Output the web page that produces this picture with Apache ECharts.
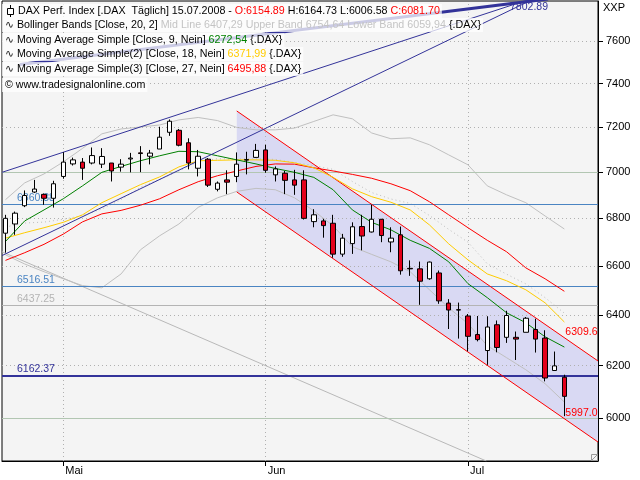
<!DOCTYPE html>
<html><head><meta charset="utf-8">
<script src="https://cdn.jsdelivr.net/npm/echarts@6/dist/echarts.min.js"></script>
<style>html,body{margin:0;padding:0;background:#fff}#c{width:640px;height:480px}</style>
</head><body><div id="c"></div>
<script>
// ---------- data ----------
const dates = [
 '2008-04-23','2008-04-24','2008-04-25','2008-04-28','2008-04-29','2008-04-30',
 '2008-05-02','2008-05-05','2008-05-06','2008-05-07','2008-05-08','2008-05-09','2008-05-12','2008-05-13','2008-05-14','2008-05-15','2008-05-16','2008-05-19','2008-05-20','2008-05-21','2008-05-22','2008-05-23','2008-05-26','2008-05-27','2008-05-28','2008-05-29','2008-05-30',
 '2008-06-02','2008-06-03','2008-06-04','2008-06-05','2008-06-06','2008-06-09','2008-06-10','2008-06-11','2008-06-12','2008-06-13','2008-06-16','2008-06-17','2008-06-18','2008-06-19','2008-06-20','2008-06-23','2008-06-24','2008-06-25','2008-06-26','2008-06-27','2008-06-30',
 '2008-07-01','2008-07-02','2008-07-03','2008-07-04','2008-07-07','2008-07-08','2008-07-09','2008-07-10','2008-07-11','2008-07-14','2008-07-15'
];
const open  = [6737,6776,6854,6913,6903,6886,6981,7036,7044,7040,7035,7040,7022,7058,7085,7070,7102,7177,7186,7130,7017,7057,6925,6966,6981,7055,7065,7098,6988,6995,6966,6966,6786,6789,6779,6649,6693,6765,6742,6796,6700,6730,6590,6588,6547,6571,6448,6421,6396,6322,6259,6361,6311,6311,6331,6342,6308,6181,6154.89];
const close = [6800,6822,6898,6926,6886,6949,7044,7054,7017,7073,7069,7005,7035,7062,7082,7084,7155,7227,7119,7040,7070,6943,6952,6956,7035,7053,7096,7008,7014,6964,6943,6800,6815,6769,6649,6716,6764,6725,6796,6727,6716,6580,6588,6537,6616,6457,6420,6420,6315,6302,6352,6271,6398,6304,6387,6304,6152,6199,6081.70];
const low   = [6655,6730,6848,6909,6858,6846,6971,7029,6966,7034,7018,6959,7002,6999,7000,7034,7102,7161,7114,7012,6981,6935,6916,6904,6956,6990,7063,6997,6959,6904,6901,6795,6762,6718,6634,6638,6650,6665,6740,6699,6657,6564,6559,6441,6543,6445,6344,6306,6256,6295,6203,6252,6289,6222,6331,6251,6139,6181,6006.58];
const high  = [6815,6829,6920,6966,6907,6962,7088,7064,7062,7109,7106,7040,7057,7085,7115,7098,7202,7235,7192,7150,7098,7062,6959,7008,7087,7090,7125,7121,7025,7005,7010,7008,6839,6798,6815,6734,6783,6815,6858,6797,6762,6765,6623,6618,6618,6581,6464,6450,6404,6396,6395,6378,6417,6334,6392,6385,6339,6255,6164.73];

const sampleIdx = [0,2,4,6,8,10,12,14,16,18,20,22,24,26,28,30,32,34,36,38,40,42,44,46,48,50,52,54,56,58];
const ma9   = [6702,6789,6836,6884,6940,6999,7025,7050,7072,7092,7090,7072,7054,7036,7016,6999,6977,6923,6836,6783,6751,6707,6673,6617,6527,6470,6409,6369,6313,6272.54];
const ma18  = [6716,6739,6760,6783,6815,6867,6906,6945,6979,7023,7050,7052,7054,7054,7052,7041,7019,6977,6927,6893,6869,6836,6772,6692,6625,6567,6539,6502,6449,6371.99];
const ma27  = [6623,6655,6690,6733,6785,6819,6834,6856,6884,6923,6958,6984,7005,7025,7036,7035,7019,7005,6990,6973,6949,6919,6871,6815,6760,6707,6659,6592,6547,6495.88];
const bbUpper = [6880,6953,6992,7045,7105,7170,7192,7201,7210,7233,7244,7230,7199,7188,7188,7196,7226,7256,7238,7174,7148,7152,7121,7076,7032,6940,6901,6867,6810,6754.64];
const bbMid   = [6763,6780,6784,6796,6812,6840,6880,6934,6968,7005,7046,7059,7058,7059,7056,7042,7029,7012,6959,6911,6883,6864,6812,6753,6699,6609,6566,6526,6470,6407.29];
const bbLower = [6646,6608,6576,6547,6519,6510,6567,6667,6726,6776,6847,6888,6916,6929,6923,6888,6832,6768,6680,6648,6617,6576,6502,6429,6365,6278,6231,6184,6130,6059.94];

const yTicks = [6000,6200,6400,6600,6800,7000,7200,7400,7600];
const monthNames = ['Mai','Jun','Jul'];
const levels = [6860.38, 6516.51, 6437.25, 6162.37];
const roundLevels = [7000, 6000];
const trendA = [[-0.36, 6999], [56.3, 7831]];
const trendB = [[-0.36, 6643], [56.3, 7837]];
const trendC = [[1.5, 7489], [56.3, 7802.89]];
const grayTrend = [[-0.36, 6659], [49.9, 5840]];
const chUpper = [[24, 7273.6], [61.49, 6218]];
const chLower = [[24, 6913.5], [61.49, 5910]];
const chLabels = [[58, 6309.6], [58, 5997.0]];

// ---------- styles ----------
const F = '"Liberation Sans", Arial, Helvetica, "DejaVu Sans", sans-serif';
const levelColors = ['#4a84c2', '#4a84c2', '#b4b4b4', '#33339a'];
const levelWidths = [1, 1, 1, 2];

const monthIdx = dates.map((d, i) => (i > 0 && d.slice(5, 7) !== dates[i - 1].slice(5, 7)) ? i : -1).filter(i => i >= 0);
const candleData = dates.map((d, i) => [i, open[i], close[i], low[i], high[i]]);
const pts = arr => sampleIdx.map((x, k) => [x, arr[k]]);

function lineSeries(data, color, width, z, extra) {
  return Object.assign({
    type: 'line', data: data, showSymbol: false, symbol: 'none', clip: true, silent: true,
    lineStyle: { color: color, width: width }, z: z, animation: false
  }, extra || {});
}

const chart = echarts.init(document.getElementById('c'), null, { renderer: 'canvas' });

const fmt2 = v => v.toFixed(2);
const last = dates.length - 1;
const legendTexts = [
  '{k|DAX Perf. Index [.DAX  Täglich] ' + dates[last].split('-').reverse().join('.') + ' - }{r|O:' + fmt2(open[last]) + '}{k| H:' + fmt2(high[last]) + ' L:' + fmt2(low[last]) + ' }{r|C:' + fmt2(close[last]) + '}',
  '{k|\u223F Bollinger Bands [Close, 20, 2]}{g| Mid Line 6407,29 Upper Band 6754,64 Lower Band 6059,94}{k| {.DAX}}',
  '{k|\u223F Moving Average Simple [Close, 9, Nein] }{gr|6272,54}{k| {.DAX}}',
  '{k|\u223F Moving Average Simple(2) [Close, 18, Nein] }{y|6371,99}{k| {.DAX}}',
  '{k|\u223F Moving Average Simple(3) [Close, 27, Nein] }{r|6495,88}{k| {.DAX}}',
  '{k|\u00A9 www.tradesignalonline.com}'
];
const rowY = [11, 25, 40, 54, 69, 85];
const LF = '10.7px ' + F;
const rich = {
  k: { fill: '#000', font: LF }, r: { fill: '#ff0000', font: LF }, g: { fill: '#c4c4c4', font: LF },
  gr: { fill: '#008000', font: LF }, y: { fill: '#ffcc00', font: LF }
};
const graphics = legendTexts.map((t, i) => ({
  type: 'text', x: 2, y: rowY[i], z: 100, silent: true,
  style: {
    text: t, rich: rich, font: LF, fill: '#000', verticalAlign: 'middle', align: 'left',
    backgroundColor: 'rgba(255,255,255,0.75)', padding: i === 0 ? [2, 2, 1, 16] : [2, 2, 1, 3]
  }
}));
graphics.push({ type: 'line', z: 101, shape: { x1: 10.5, y1: 5, x2: 10.5, y2: 17 }, style: { stroke: '#000', lineWidth: 1 } });
graphics.push({ type: 'rect', z: 102, shape: { x: 7.5, y: 8.5, width: 6, height: 6 }, style: { fill: '#fff', stroke: '#000', lineWidth: 1 } });
graphics.push({ type: 'text', x: 603, y: 8, z: 100, style: { text: 'XXP', font: '11px ' + F, fill: '#000', verticalAlign: 'middle' } });
graphics.push({ type: 'rect', z: 100, shape: { x: 591.5, y: 454.5, width: 6, height: 6 }, style: { fill: '#f4f4f4', stroke: '#9a9a9a', lineWidth: 1 } });
graphics.push({ type: 'line', z: 101, shape: { x1: 592, y1: 460, x2: 597, y2: 455 }, style: { stroke: '#9a9a9a', lineWidth: 1 } });

const option = {
  animation: false,
  backgroundColor: '#ffffff',
  grid: { left: 2, right: 42, top: 1, bottom: 19, show: true, backgroundColor: '#f4f4f4', borderColor: '#000', borderWidth: 1, containLabel: false, outerBoundsMode: 'none' },
  xAxis: {
    type: 'value', min: -0.36, max: 61.49,
    axisLine: { show: true, onZero: false, lineStyle: { color: '#000', width: 1 } },
    axisTick: { show: true, customValues: monthIdx, length: 5, lineStyle: { color: '#000' } },
    axisLabel: { show: true, customValues: monthIdx, formatter: v => monthNames[monthIdx.indexOf(v)] || '', align: 'left', margin: 4, color: '#000', fontSize: 11, fontFamily: F, padding: [0, 0, 0, 2] },
    splitLine: { show: false }
  },
  yAxis: {
    type: 'log', logBase: 10, position: 'right', min: 5840, max: 7793,
    axisLine: { show: true, onZero: false, lineStyle: { color: '#000', width: 1 } },
    axisTick: { show: true, customValues: yTicks, length: 5, lineStyle: { color: '#000' } },
    axisLabel: { show: true, customValues: yTicks, formatter: v => String(Math.round(v)), margin: 8, color: '#000', fontSize: 11, fontFamily: F },
    splitLine: { show: false }, minorTick: { show: false }, minorSplitLine: { show: false }
  },
  graphic: graphics,
  series: [
    // channel fill
    {
      type: 'custom', z: 1, silent: true, clip: true, data: [chUpper[0]],
      renderItem: (params, api) => ({
        type: 'polygon',
        shape: { points: [chUpper[0], chUpper[1], chLower[1], chLower[0]].map(p => api.coord(p)) },
        style: { fill: '#d9d9f3' }
      })
    },
    // dotted grid
    {
      type: 'line', data: [], z: 2, silent: true,
      markLine: {
        silent: true, symbol: 'none', animation: false, label: { show: false },
        lineStyle: { color: '#b0b0b0', type: [1, 3], width: 1 },
        data: yTicks.map(v => ({ yAxis: v })).concat(monthIdx.map(v => ({ xAxis: v })))
      }
    },
    // horizontal levels
    {
      type: 'line', data: [], z: 3, silent: true,
      markLine: {
        silent: true, symbol: 'none', animation: false,
        data: roundLevels.map(v => ({ yAxis: v, lineStyle: { color: '#b2c6b2', width: 1, type: 'solid' }, label: { show: false } }))
          .concat(levels.map((v, i) => ({
            yAxis: v,
            lineStyle: { color: levelColors[i], width: levelWidths[i], type: 'solid' },
            label: { show: true, position: 'insideStartTop', distance: [15, 1], formatter: p => p.value.toFixed(2), color: levelColors[i], fontSize: 10.5, fontFamily: F }
          })))
      }
    },
    lineSeries(grayTrend, '#b8b8b8', 1, 4),
    lineSeries(pts(bbUpper), '#c0c0c0', 1, 4),
    lineSeries(pts(bbLower), '#c0c0c0', 1, 4),
    lineSeries(pts(bbMid), '#bdbdbd', 1, 4, { lineStyle: { color: '#bdbdbd', width: 1, type: [1, 3] } }),
    lineSeries(chUpper, '#ff0000', 1, 5, {
      markPoint: { symbol: 'circle', symbolSize: 0, animation: false, silent: true,
        label: { show: true, position: 'right', distance: 1, offset: [0, -6], color: '#ff0000', fontSize: 10.5, fontFamily: F, formatter: p => p.value.toFixed(1) },
        data: [{ coord: chLabels[0], value: chLabels[0][1] }] }
    }),
    lineSeries(chLower, '#ff0000', 1, 5, {
      markPoint: { symbol: 'circle', symbolSize: 0, animation: false, silent: true,
        label: { show: true, position: 'right', distance: 1, offset: [0, -6], color: '#ff0000', fontSize: 10.5, fontFamily: F, formatter: p => p.value.toFixed(1) },
        data: [{ coord: chLabels[1], value: chLabels[1][1] }] }
    }),
    lineSeries(pts(ma27), '#ff0000', 1, 6),
    lineSeries(pts(ma18), '#ffcc00', 1, 6),
    lineSeries(pts(ma9), '#008000', 1, 6),
    lineSeries(trendA, '#333399', 1, 7),
    lineSeries(trendB, '#333399', 1, 7),
    lineSeries(trendC, '#333399', 3, 7),
    {
      type: 'candlestick', data: candleData, barWidth: 5, z: 10, clip: true, silent: true,
      itemStyle: { color: '#ffffff', color0: '#e3001b', borderColor: '#000', borderColor0: '#000', borderWidth: 1 }
    }
  ]
};
chart.setOption(option);

// label for the end of the thick trend line
const endPt = chart.convertToPixel({ gridIndex: 0 }, trendC[trendC.length - 1]);
chart.setOption({ graphic: graphics.concat([{
  type: 'text', x: endPt[0], y: Math.max(endPt[1], 0) + 7, z: 99, silent: true,
  style: { text: trendC[trendC.length - 1][1].toFixed(2), font: '10.5px ' + F, fill: '#333399', align: 'right', verticalAlign: 'middle' }
}]) });
</script>
</body></html>
